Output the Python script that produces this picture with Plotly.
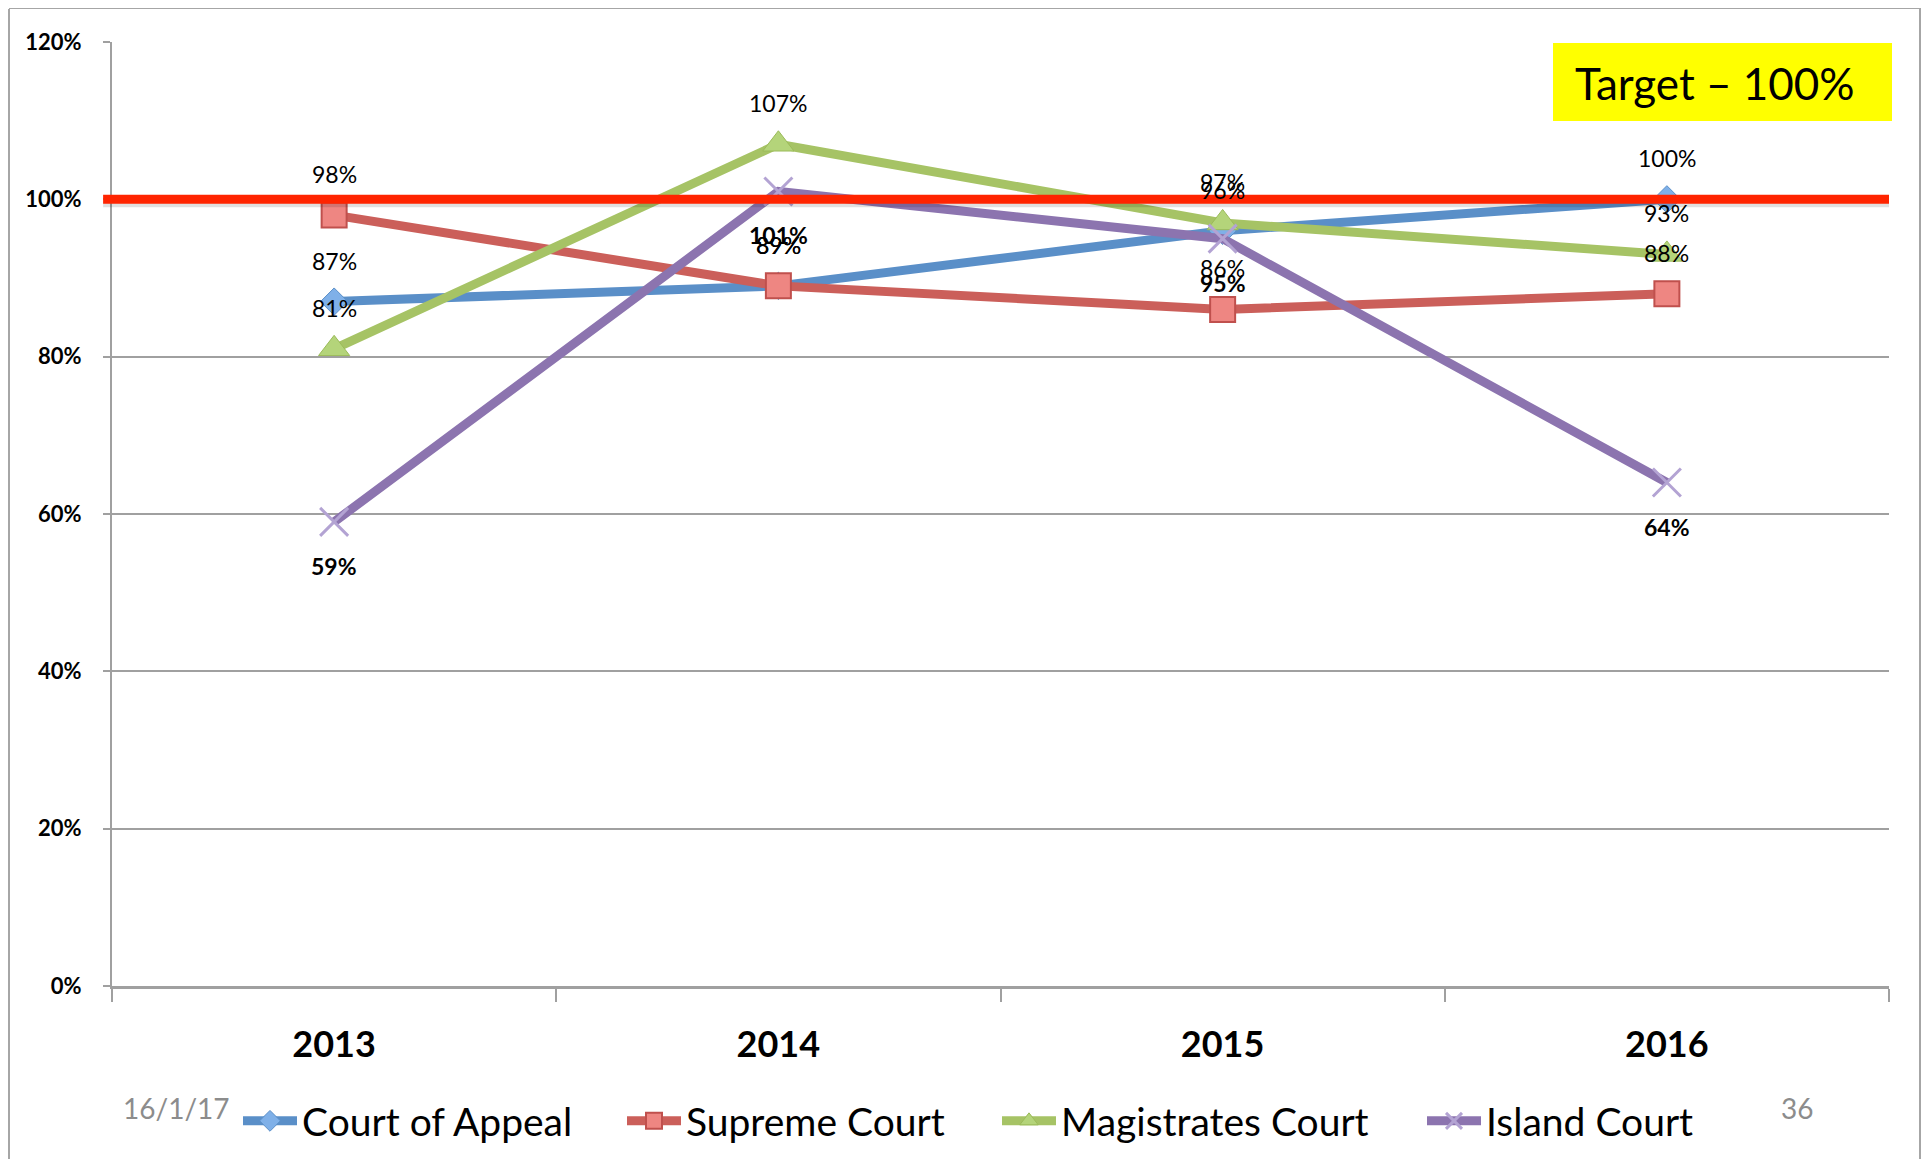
import plotly.graph_objects as go

# ---------------- data ----------------
years = ["2013", "2014", "2015", "2016"]
court_of_appeal = [87, 89, 96, 100]
supreme_court = [98, 89, 86, 88]
magistrates_court = [81, 107, 97, 93]
island_court = [59, 101, 95, 64]
TARGET = 100
y_ticks = [0, 20, 40, 60, 80, 100, 120]

series_names = ["Court of Appeal", "Supreme Court", "Magistrates Court", "Island Court"]
series_values = [court_of_appeal, supreme_court, magistrates_court, island_court]

# ---------------- styles ----------------
FONT = "Lato"
W, H = 1914, 1151
ML, MR, MT, MB = 104, 33, 34, 173
PW, PH = W - ML - MR, H - MT - MB


def px_x(px):
    return (px - ML) / PW


def px_y(py):
    return (H - MB - py) / PH


styles = [
    dict(line="#5A8FC8", symbol="diamond", size=21, fill="#7FB0E8", mline="#5A8FC8", mw=1,
         label_pos="above", bold=False, legend_x=230),
    dict(line="#CB5F5A", symbol="square", size=25, fill="#EE8682", mline="#C0504D", mw=2,
         label_pos="above", bold=False, legend_x=614),
    dict(line="#A6C365", symbol="triangle-up", size=27, fill="#B4D47A", mline="#9BBB59", mw=1,
         label_pos="above", bold=False, legend_x=989),
    dict(line="#8C74AF", symbol="x-thin", size=28, fill="#B3A3D3", mline="#B3A3D3", mw=3,
         label_pos="below", bold=True, legend_x=1414),
]

fig = go.Figure()

legend_ids = ["legend", "legend2", "legend3", "legend4"]
for name, vals, st, lid in zip(series_names, series_values, styles, legend_ids):
    fig.add_trace(go.Scatter(
        x=years, y=vals, name=name, mode="lines+markers",
        line=dict(color=st["line"], width=9),
        marker=dict(symbol=st["symbol"], size=st["size"], color=st["fill"],
                    line=dict(color=st["mline"], width=st["mw"])),
        cliponaxis=False, legend=lid,
    ))

annotations = []
for name, vals, st in zip(series_names, series_values, styles):
    for i, v in enumerate(vals):
        annotations.append(dict(
            x=i, y=v, xref="x", yref="y", text=f"{v}%", showarrow=False,
            yshift=41 if st["label_pos"] == "above" else -44,
            font=dict(family=FONT, size=23, color="black",
                      weight="bold" if st["bold"] else "normal"),
        ))

# Target box text
annotations.append(dict(
    x=px_x(1565), y=px_y(75), xref="paper", yref="paper", xanchor="left", yanchor="middle",
    text="Target – 100%", showarrow=False,
    font=dict(family=FONT, size=44, color="black"),
))
# footer texts
annotations.append(dict(
    x=px_x(113), y=px_y(1100), xref="paper", yref="paper", xanchor="left", yanchor="middle",
    text="16/1/17", showarrow=False, font=dict(family=FONT, size=28, color="#8C8C8C"),
))
annotations.append(dict(
    x=px_x(1789), y=px_y(1100), xref="paper", yref="paper", xanchor="center", yanchor="middle",
    text="36", showarrow=False, font=dict(family=FONT, size=28, color="#8C8C8C"),
))

shapes = [
    # yellow target box
    dict(type="rect", xref="paper", yref="paper",
         x0=px_x(1545), x1=px_x(1884), y0=px_y(113), y1=px_y(35),
         fillcolor="#FFFF00", line=dict(width=0), layer="below"),
    # target line shadow
    dict(type="line", xref="paper", yref="y", ysizemode="pixel", yanchor=TARGET,
         x0=-0.005, x1=1.0, y0=-5, y1=-5,
         line=dict(color="rgba(0,0,0,0.12)", width=6), layer="above"),
    # target line
    dict(type="line", xref="paper", yref="y", x0=-0.005, x1=1.0, y0=TARGET, y1=TARGET,
         line=dict(color="#FF2400", width=9), layer="above"),
    # outer border (left, top, right)
    dict(type="line", xref="paper", yref="paper", x0=px_x(1), x1=px_x(1), y0=px_y(1), y1=px_y(H + 5),
         line=dict(color="#A6A6A6", width=2)),
    dict(type="line", xref="paper", yref="paper", x0=px_x(1), x1=px_x(1912), y0=px_y(0), y1=px_y(0),
         line=dict(color="#A6A6A6", width=2)),
    dict(type="line", xref="paper", yref="paper", x0=px_x(1912), x1=px_x(1912), y0=px_y(0), y1=px_y(H + 5),
         line=dict(color="#A6A6A6", width=2)),
]

legends = {}
for st, lid in zip(styles, legend_ids):
    legends[lid] = dict(
        orientation="h", x=px_x(st["legend_x"]), xanchor="left", y=px_y(1113), yanchor="middle",
        font=dict(family=FONT, size=39, color="black"),
        itemwidth=54, bgcolor="rgba(0,0,0,0)",
    )

fig.update_layout(
    width=W, height=H,
    margin=dict(l=ML, r=MR, t=MT, b=MB, pad=0, autoexpand=False),
    paper_bgcolor="white", plot_bgcolor="white",
    font=dict(family=FONT, color="black"),
    showlegend=True,
    annotations=annotations,
    shapes=shapes,
    xaxis=dict(
        type="category", categoryorder="array", categoryarray=years,
        range=[-0.5, 3.5], tickson="boundaries", ticks="outside", ticklen=13,
        tickcolor="#A0A0A0", tickwidth=2, showgrid=False, zeroline=False,
        showline=True, linecolor="#A0A0A0", linewidth=3,
        tickfont=dict(family=FONT, size=36, color="black", weight="bold"),
        ticklabelstandoff=25,
    ),
    yaxis=dict(
        range=[0, 120], tickvals=y_ticks, ticktext=[f"{t}%" for t in y_ticks],
        ticks="outside", ticklen=7, tickcolor="#A0A0A0", tickwidth=2,
        showgrid=True, gridcolor="#A0A0A0", gridwidth=2, zeroline=False,
        showline=True, linecolor="#A0A0A0", linewidth=2,
        tickfont=dict(family=FONT, size=22, color="black", weight="bold"),
        ticklabelstandoff=17,
    ),
    **legends,
)

fig.write_html("out.html")
